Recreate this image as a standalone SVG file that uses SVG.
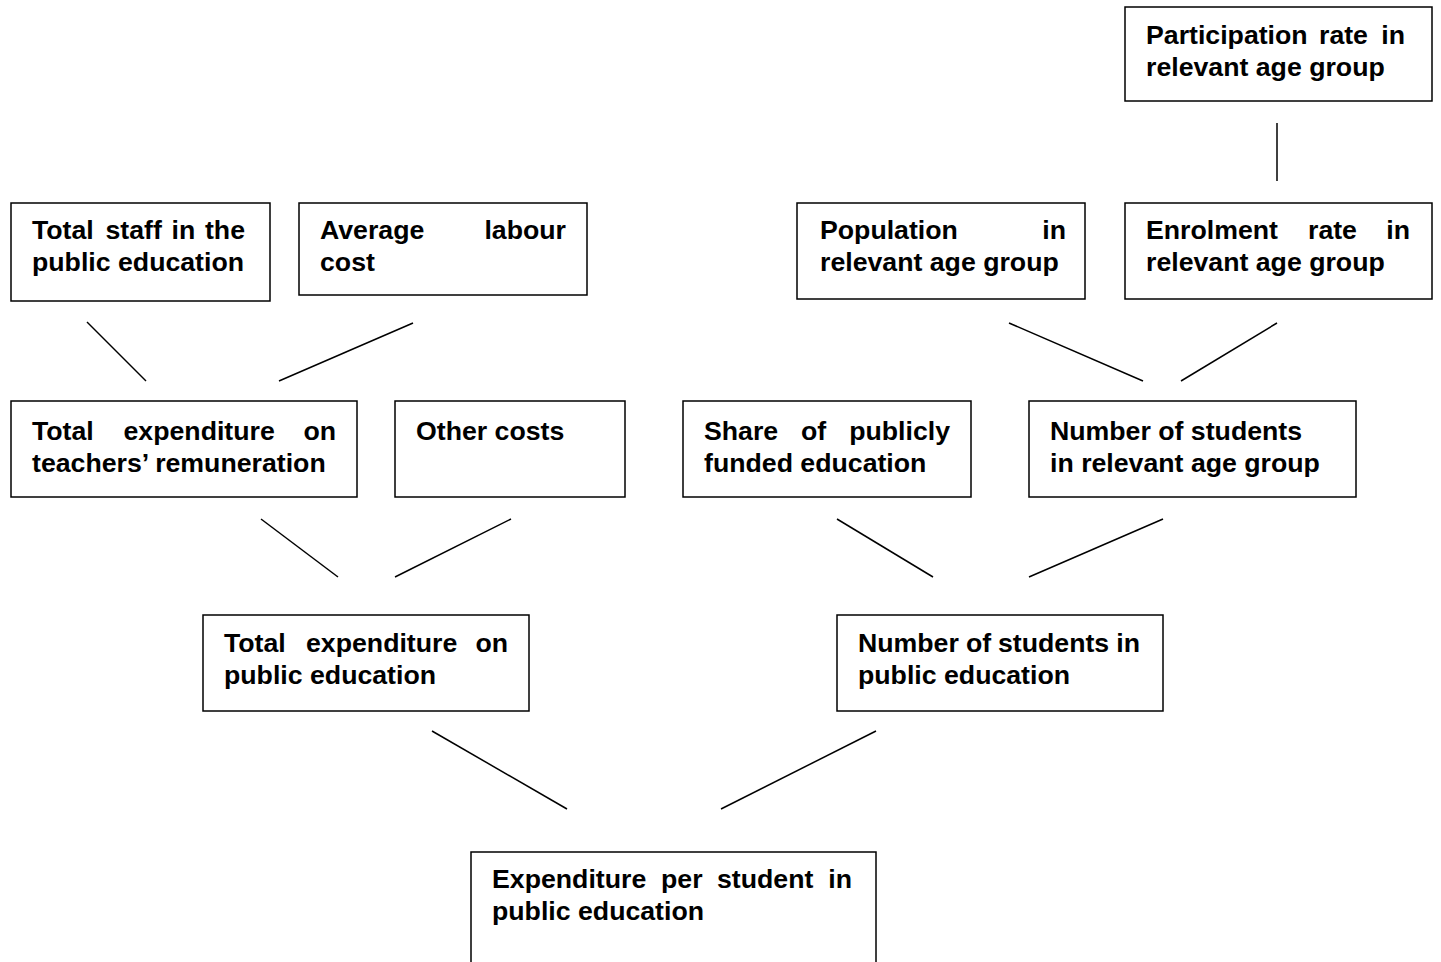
<svg xmlns="http://www.w3.org/2000/svg" width="1441" height="962" viewBox="0 0 1441 962">
<style>
.box{fill:#fff;stroke:#000;stroke-width:1.5}
.lbl{font-family:"Liberation Sans",Arial,sans-serif;font-weight:bold;font-size:26.7px;fill:#000}
.end{text-anchor:end}
#connectors line{stroke:#000;stroke-width:1.5}
</style>
<rect width="1441" height="962" fill="#fff"/>
<g id="connectors">
<line x1="87" y1="322" x2="146" y2="381"/>
<line x1="413" y1="323" x2="279" y2="381"/>
<line x1="1009" y1="323" x2="1143" y2="381"/>
<line x1="1277" y1="323" x2="1181" y2="381"/>
<line x1="1277" y1="123" x2="1277" y2="181"/>
<line x1="261" y1="519" x2="338" y2="577"/>
<line x1="511" y1="519" x2="395" y2="577"/>
<line x1="837" y1="519" x2="933" y2="577"/>
<line x1="1163" y1="519" x2="1029" y2="577"/>
<line x1="432" y1="731" x2="567" y2="809"/>
<line x1="876" y1="731" x2="721" y2="809"/>
</g>
<g id="participation">
<rect class="box" x="1125" y="7" width="307" height="94"/>
<text class="lbl" y="44"><tspan x="1146">Participation</tspan><tspan x="1319">rate</tspan><tspan x="1405" class="end">in</tspan></text>
<text class="lbl" x="1146" y="76">relevant age group</text>
</g>
<g id="total-staff">
<rect class="box" x="11" y="203" width="259" height="98"/>
<text class="lbl" y="239"><tspan x="32">Total</tspan><tspan x="105.5">staff</tspan><tspan x="171.5">in</tspan><tspan x="245" class="end">the</tspan></text>
<text class="lbl" x="32" y="271">public education</text>
</g>
<g id="average-labour">
<rect class="box" x="299" y="203" width="288" height="92"/>
<text class="lbl" y="239"><tspan x="320">Average</tspan><tspan x="566" class="end">labour</tspan></text>
<text class="lbl" x="320" y="271">cost</text>
</g>
<g id="population">
<rect class="box" x="797" y="203" width="288" height="96"/>
<text class="lbl" y="239"><tspan x="820">Population</tspan><tspan x="1066" class="end">in</tspan></text>
<text class="lbl" x="820" y="271">relevant age group</text>
</g>
<g id="enrolment">
<rect class="box" x="1125" y="203" width="307" height="96"/>
<text class="lbl" y="239"><tspan x="1146">Enrolment</tspan><tspan x="1308">rate</tspan><tspan x="1410" class="end">in</tspan></text>
<text class="lbl" x="1146" y="271">relevant age group</text>
</g>
<g id="teachers-remuneration">
<rect class="box" x="11" y="401" width="346" height="96"/>
<text class="lbl" y="440"><tspan x="32">Total</tspan><tspan x="123.5">expenditure</tspan><tspan x="336" class="end">on</tspan></text>
<text class="lbl" x="32" y="472">teachers’ remuneration</text>
</g>
<g id="other-costs">
<rect class="box" x="395" y="401" width="230" height="96"/>
<text class="lbl" x="416" y="440">Other costs</text>
</g>
<g id="share-publicly">
<rect class="box" x="683" y="401" width="288" height="96"/>
<text class="lbl" y="440"><tspan x="704">Share</tspan><tspan x="801">of</tspan><tspan x="950" class="end">publicly</tspan></text>
<text class="lbl" x="704" y="472">funded education</text>
</g>
<g id="students-age-group">
<rect class="box" x="1029" y="401" width="327" height="96"/>
<text class="lbl" x="1050" y="440">Number of students</text>
<text class="lbl" x="1050" y="472">in relevant age group</text>
</g>
<g id="total-expenditure">
<rect class="box" x="203" y="615" width="326" height="96"/>
<text class="lbl" y="652"><tspan x="224">Total</tspan><tspan x="306">expenditure</tspan><tspan x="508" class="end">on</tspan></text>
<text class="lbl" x="224" y="684">public education</text>
</g>
<g id="students-public">
<rect class="box" x="837" y="615" width="326" height="96"/>
<text class="lbl" y="652"><tspan x="858">Number</tspan><tspan x="966">of</tspan><tspan x="998">students</tspan><tspan x="1140" class="end">in</tspan></text>
<text class="lbl" x="858" y="684">public education</text>
</g>
<g id="expenditure-per-student">
<rect class="box" x="471" y="852" width="405" height="130"/>
<text class="lbl" y="888"><tspan x="492">Expenditure</tspan><tspan x="661">per</tspan><tspan x="717">student</tspan><tspan x="852" class="end">in</tspan></text>
<text class="lbl" x="492" y="920">public education</text>
</g>
</svg>
